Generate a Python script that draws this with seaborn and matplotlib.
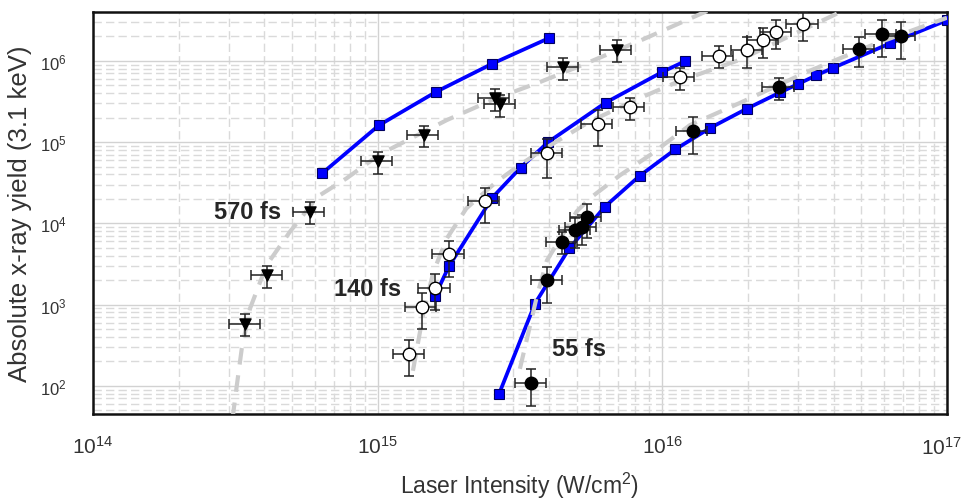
import numpy as np
import matplotlib
matplotlib.use("Agg")
import matplotlib.pyplot as plt
import matplotlib.ticker as mticker
import seaborn as sns
import pandas as pd

# ---------------- data ----------------
# 570 fs
sim570_x = [6.39e14, 1.01e15, 1.60e15, 2.53e15, 4.0e15]
sim570_y = [4.15e4, 1.61e5, 4.14e5, 9.26e5, 1.91e6]
exp570_x = [3.42e14, 4.10e14, 5.77e14, 1.00e15, 1.45e15, 2.58e15, 2.70e15, 4.48e15, 6.91e15]
exp570_y = [583, 2300, 1.39e4, 5.78e4, 1.23e5, 3.49e5, 2.94e5, 8.43e5, 1.38e6]
exp570_yrel = [0.3, 0.3, 0.3, 0.3, 0.3, 0.3, 0.3, 0.3, 0.3]
fit570_x = [3.09e14, 3.20e14, 3.33e14, 3.56e14, 4.07e14, 4.92e14, 6.17e14, 7.78e14,
            1.02e15, 1.75e15, 2.62e15, 3.72e15, 5.14e15, 8.34e15, 1.47e16]
fit570_y = [39, 101, 286, 893, 3055, 7900, 2.15e4, 3.59e4,
            7.11e4, 1.87e5, 3.49e5, 5.5e5, 8.67e5, 1.77e6, 4.26e6]

# 140 fs
sim140_x = [1.59e15, 1.78e15, 2.53e15, 3.18e15, 3.97e15, 6.32e15, 1.0e16, 1.2e16]
sim140_y = [1280, 2970, 2.08e4, 4.87e4, 1.0e5, 3.06e5, 7.31e5, 9.9e5]
exp140_x = [1.29e15, 1.43e15, 1.59e15, 1.78e15, 2.38e15, 3.95e15, 5.93e15, 7.69e15,
            1.15e16, 1.58e16, 1.99e16, 2.26e16, 2.51e16, 3.12e16]
exp140_y = [248, 937, 1608, 4180, 1.88e4, 7.25e4, 1.68e5, 2.68e5,
            6.29e5, 1.16e6, 1.38e6, 1.80e6, 2.28e6, 2.86e6]
exp140_yrel = [0.47, 0.47, 0.47, 0.47, 0.47, 0.5, 0.47, 0.3, 0.3, 0.3, 0.41, 0.4, 0.39, 0.39]
fit140_x = [1.33e15, 1.45e15, 1.57e15, 1.75e15, 2.05e15, 2.62e15, 3.16e15, 3.72e15,
            5.57e15, 8.34e15, 1.15e16, 1.87e16, 4.31e16]
fit140_y = [153, 813, 2530, 6530, 1.53e4, 3.27e4, 5.25e4, 7.67e4,
            1.80e5, 3.49e5, 5.66e5, 1.03e6, 4.14e6]

# 55 fs
sim55_x = [2.67e15, 3.57e15, 4.71e15, 6.29e15, 8.32e15, 1.11e16, 1.47e16, 1.98e16,
           2.60e16, 3.0e16, 3.48e16, 3.98e16, 6.3e16, 9.97e16]
sim55_y = [79.7, 1030, 4910, 1.61e4, 3.84e4, 8.13e4, 1.49e5, 2.58e5,
           4.11e5, 5.2e5, 6.66e5, 8.2e5, 1.64e6, 3.15e6]
exp55_x = [3.46e15, 3.95e15, 4.46e15, 4.94e15, 5.21e15, 5.42e15, 1.28e16, 2.57e16,
           4.92e16, 5.91e16, 6.89e16]
exp55_y = [109, 1995, 5940, 8270, 9100, 1.21e4, 1.36e5, 4.73e5, 1.41e6, 2.15e6, 2.02e6]
exp55_yrel = [0.48, 0.47, 0.3, 0.4, 0.4, 0.45, 0.48, 0.3, 0.4, 0.48, 0.48]
fit55_x = [3.16e15, 3.43e15, 3.63e15, 3.93e15, 5.01e15, 5.57e15, 7.10e15, 9.04e15,
           1.25e16, 1.87e16, 3.22e16, 5.49e16, 1.0e17]
fit55_y = [162, 550, 1290, 3490, 1.41e4, 2.04e4, 3.91e4, 6.91e4,
           1.62e5, 3.03e5, 7.31e5, 1.58e6, 3.4e6]

xrel = 0.125  # relative intensity uncertainty

labels = ["570 fs", "140 fs", "55 fs"]
label_pos_x = [3.5e14, 9.2e14, 5.1e15]
label_pos_y = [1.41e4, 1.58e3, 2.86e2]

x_tick_labels = ["$10^{14}$", "$10^{15}$", "$10^{16}$", "$10^{17}$"]

# ---------------- style ----------------
sns.set_theme(style="white")
plt.rcParams["font.family"] = ["Liberation Sans", "DejaVu Sans"]
plt.rcParams["mathtext.fontset"] = "custom"
plt.rcParams["mathtext.rm"] = "Liberation Sans"
plt.rcParams["mathtext.it"] = "Liberation Sans:italic"
plt.rcParams["mathtext.default"] = "regular"

fig = plt.figure(figsize=(9.65, 5.02), dpi=100)
ax = fig.add_axes([0.0964, 0.1733, 0.8849, 0.8008])
ax.set_xscale("log")
ax.set_yscale("log")
ax.set_xlim(1e14, 1e17)
ax.set_ylim(45, 4.0e6)

ax.xaxis.set_major_locator(mticker.LogLocator(base=10, numticks=10))
ax.yaxis.set_major_locator(mticker.LogLocator(base=10, numticks=10))
ax.xaxis.set_minor_locator(mticker.LogLocator(base=10, subs=np.arange(2, 10), numticks=100))
ax.yaxis.set_minor_locator(mticker.LogLocator(base=10, subs=np.arange(2, 10), numticks=100))
ax.grid(which="major", color="#d2d2d2", lw=1.0, ls="-", zorder=0)
ax.grid(which="minor", color="#dadada", lw=1.0, ls=(0, (6, 3)), zorder=0)
ax.set_axisbelow(True)

for s in ax.spines.values():
    s.set_color("#111111")
    s.set_linewidth(1.8)
ax.tick_params(which="major", direction="out", length=6, width=1.5, color="#111111",
               labelcolor="#333333")
ax.tick_params(axis="y", which="major", labelsize=12, pad=13)
ax.tick_params(axis="x", which="major", labelsize=15, pad=9)
ax.tick_params(which="minor", length=0)

# x tick labels: the last one is drawn slightly shifted so it stays on the canvas
ax.xaxis.set_major_formatter(mticker.FuncFormatter(
    lambda v, p: "" if v >= 9.9e16 else "$10^{%d}$" % round(np.log10(v))))
ax.annotate(x_tick_labels[-1], xy=(1.0, 0.0), xycoords="axes fraction",
            xytext=(-4, -15.5), textcoords="offset points", ha="center", va="top",
            fontsize=15, color="#333333", annotation_clip=False)

blue = "#0000ff"
gray = "#cccccc"

# simulation lines (blue squares)
for sx, sy in [(sim570_x, sim570_y), (sim140_x, sim140_y), (sim55_x, sim55_y)]:
    df = pd.DataFrame({"x": sx, "y": sy})
    sns.lineplot(data=df, x="x", y="y", ax=ax, color=blue, lw=2.7, marker="s",
                 markersize=6.5, markerfacecolor=blue, markeredgecolor="#000060",
                 markeredgewidth=0.8, sort=False, estimator=None, zorder=3)

# fit curves (gray dashed)
for fx, fy in [(fit570_x, fit570_y), (fit140_x, fit140_y), (fit55_x, fit55_y)]:
    df = pd.DataFrame({"x": fx, "y": fy})
    sns.lineplot(data=df, x="x", y="y", ax=ax, color=gray, lw=3.0, sort=False,
                 estimator=None, zorder=4)
    ax.lines[-1].set_linestyle((0, (4, 2.6)))

# experimental data with error bars
def errs(x, rel):
    x = np.asarray(x, float)
    r = np.asarray(rel, float) * np.ones_like(x)
    return np.vstack([x * r, x * r])

datasets = [
    (exp570_x, exp570_y, exp570_yrel, "v", "black", "black", 8),
    (exp140_x, exp140_y, exp140_yrel, "o", "white", "black", 9),
    (exp55_x, exp55_y, exp55_yrel, "o", "black", "black", 9),
]
for ex, ey, yr, mk, fc, ec, ms in datasets:
    ax.errorbar(ex, ey, xerr=errs(ex, xrel), yerr=errs(ey, yr), fmt="none",
                ecolor="#222222", elinewidth=1.1, capsize=3.5, capthick=1.1, zorder=5)
    df = pd.DataFrame({"x": ex, "y": ey})
    sns.scatterplot(data=df, x="x", y="y", ax=ax, marker=mk, s=ms ** 2,
                    color=fc, edgecolor=ec, linewidth=1.0, zorder=6)

for t, lx, ly in zip(labels, label_pos_x, label_pos_y):
    ax.text(lx, ly, t, fontsize=17, fontweight="bold", color="#262626",
            ha="center", va="center", zorder=7)

ax.set_xlabel("Laser Intensity (W/cm$^2$)", fontsize=16.5, color="#333333")
ax.set_ylabel("Absolute x-ray yield (3.1 keV)", fontsize=18.5, color="#333333")
ax.xaxis.set_label_coords(0.5, -0.138)
ax.yaxis.set_label_coords(-0.072, 0.5)

fig.savefig("out.png", dpi=100)
